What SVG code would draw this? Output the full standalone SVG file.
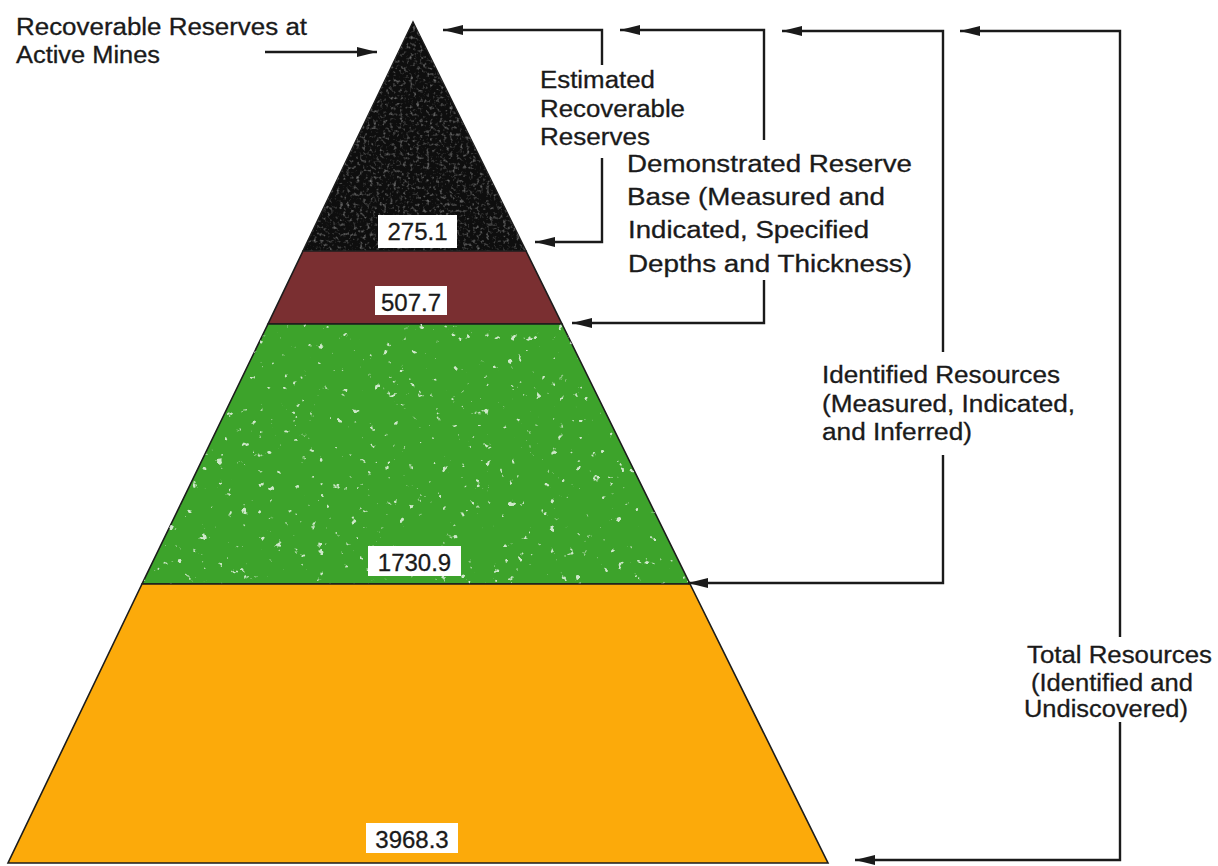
<svg xmlns="http://www.w3.org/2000/svg" width="1218" height="866" viewBox="0 0 1218 866">
  <style>
    .lbl { font-family: "Liberation Sans", Arial, sans-serif; font-size: 23px; fill: #1a1a1a; stroke: #1a1a1a; stroke-width: 0.3; }
    .num { font-family: "Liberation Sans", Arial, sans-serif; font-size: 24px; fill: #1a1a1a; stroke: #1a1a1a; stroke-width: 0.3; text-anchor: middle; }
    .box { fill: #ffffff; stroke: none; }
    .conn { fill: none; stroke: #1a1a1a; stroke-width: 2.4; }
    .edge { stroke: #1c1c1c; stroke-width: 1.6; stroke-linejoin: miter; }
  </style>
  <defs>
    <marker id="arr" markerUnits="userSpaceOnUse" markerWidth="22" markerHeight="12" refX="20" refY="6" orient="auto">
      <path d="M0,1 L20,6 L0,11 Z" fill="#1a1a1a"/>
    </marker>
    <filter id="darkNoise" x="0" y="0" width="100%" height="100%">
      <feTurbulence type="fractalNoise" baseFrequency="0.3" numOctaves="2" seed="3" result="t"/>
      <feColorMatrix in="t" type="matrix" values="0 0 0 0 0.32  0 0 0 0 0.32  0 0 0 0 0.32  2.0 0 0 0 -1.05"/>
    </filter>
    <filter id="lightSpeck" x="0" y="0" width="100%" height="100%">
      <feTurbulence type="fractalNoise" baseFrequency="0.12" numOctaves="3" seed="7" result="t"/>
      <feColorMatrix in="t" type="matrix" values="0 0 0 0 1  0 0 0 0 1  0 0 0 0 1  14 0 0 0 -9.9"/>
    </filter>
    <clipPath id="clipBlack"><polygon points="413,22 526,251 303,251"/></clipPath>
    <clipPath id="clipGreen"><polygon points="268,324 562,324 690,584 142,584"/></clipPath>
  </defs>

  <g id="layer-active-reserves">
    <polygon class="edge" points="413,22 526,251 303,251" fill="#0e0e0e"/>
    <rect x="290" y="20" width="250" height="235" filter="url(#darkNoise)" clip-path="url(#clipBlack)"/>
    <rect class="box" x="378" y="215" width="79" height="33"/>
    <text class="num" x="417.5" y="240">275.1</text>
  </g>

  <g id="layer-demonstrated">
    <polygon class="edge" points="303,251 526,251 562,324 268,324" fill="#7a2f31"/>
    <rect class="box" x="375" y="286" width="72" height="29"/>
    <text class="num" x="411" y="311">507.7</text>
  </g>

  <g id="layer-identified">
    <polygon class="edge" points="268,324 562,324 690,584 142,584" fill="#3da32b"/>
    <rect x="140" y="320" width="555" height="266" filter="url(#lightSpeck)" clip-path="url(#clipGreen)" opacity="0.75"/>
    <rect class="box" x="368" y="546" width="93" height="30"/>
    <text class="num" x="414.5" y="571">1730.9</text>
  </g>

  <g id="layer-total">
    <polygon class="edge" points="142,584 690,584 828,863 8,863" fill="#fcaa0a"/>
    <rect class="box" x="366" y="823" width="92" height="30"/>
    <text class="num" x="412" y="848">3968.3</text>
  </g>

  <g id="connectors">
    <line class="conn" x1="265" y1="52" x2="377" y2="52" marker-end="url(#arr)"/>
    <path class="conn" d="M602,65 V30 H443" marker-end="url(#arr)"/>
    <path class="conn" d="M602,158 V242 H535" marker-end="url(#arr)"/>
    <path class="conn" d="M764,140 V30 H620" marker-end="url(#arr)"/>
    <path class="conn" d="M764,280 V323 H572" marker-end="url(#arr)"/>
    <path class="conn" d="M943,352 V31 H782" marker-end="url(#arr)"/>
    <path class="conn" d="M943,455 V583 H688" marker-end="url(#arr)"/>
    <path class="conn" d="M1120,637 V31 H960" marker-end="url(#arr)"/>
    <path class="conn" d="M1120,722 V860 H855" marker-end="url(#arr)"/>
  </g>

  <g id="label-active-mines">
    <text class="lbl" x="16" y="35" textLength="291" lengthAdjust="spacingAndGlyphs">Recoverable Reserves at</text>
    <text class="lbl" x="16" y="63" textLength="144" lengthAdjust="spacingAndGlyphs">Active Mines</text>
  </g>

  <g id="label-estimated">
    <text class="lbl" x="540" y="88" textLength="115" lengthAdjust="spacingAndGlyphs">Estimated</text>
    <text class="lbl" x="540" y="117" textLength="145" lengthAdjust="spacingAndGlyphs">Recoverable</text>
    <text class="lbl" x="540" y="145" textLength="110" lengthAdjust="spacingAndGlyphs">Reserves</text>
  </g>

  <g id="label-demonstrated">
    <text class="lbl" x="627" y="172" textLength="285" lengthAdjust="spacingAndGlyphs">Demonstrated Reserve</text>
    <text class="lbl" x="627" y="205" textLength="258" lengthAdjust="spacingAndGlyphs">Base (Measured and</text>
    <text class="lbl" x="628" y="238" textLength="241" lengthAdjust="spacingAndGlyphs">Indicated, Specified</text>
    <text class="lbl" x="628" y="272" textLength="284" lengthAdjust="spacingAndGlyphs">Depths and Thickness)</text>
  </g>

  <g id="label-identified">
    <text class="lbl" x="822" y="383" textLength="238" lengthAdjust="spacingAndGlyphs">Identified Resources</text>
    <text class="lbl" x="822" y="412" textLength="253" lengthAdjust="spacingAndGlyphs">(Measured, Indicated,</text>
    <text class="lbl" x="822" y="440" textLength="150" lengthAdjust="spacingAndGlyphs">and Inferred)</text>
  </g>

  <g id="label-total">
    <text class="lbl" x="1027" y="663" textLength="185" lengthAdjust="spacingAndGlyphs">Total Resources</text>
    <text class="lbl" x="1031" y="691" textLength="162" lengthAdjust="spacingAndGlyphs">(Identified and</text>
    <text class="lbl" x="1024" y="717" textLength="164" lengthAdjust="spacingAndGlyphs">Undiscovered)</text>
  </g>
</svg>
